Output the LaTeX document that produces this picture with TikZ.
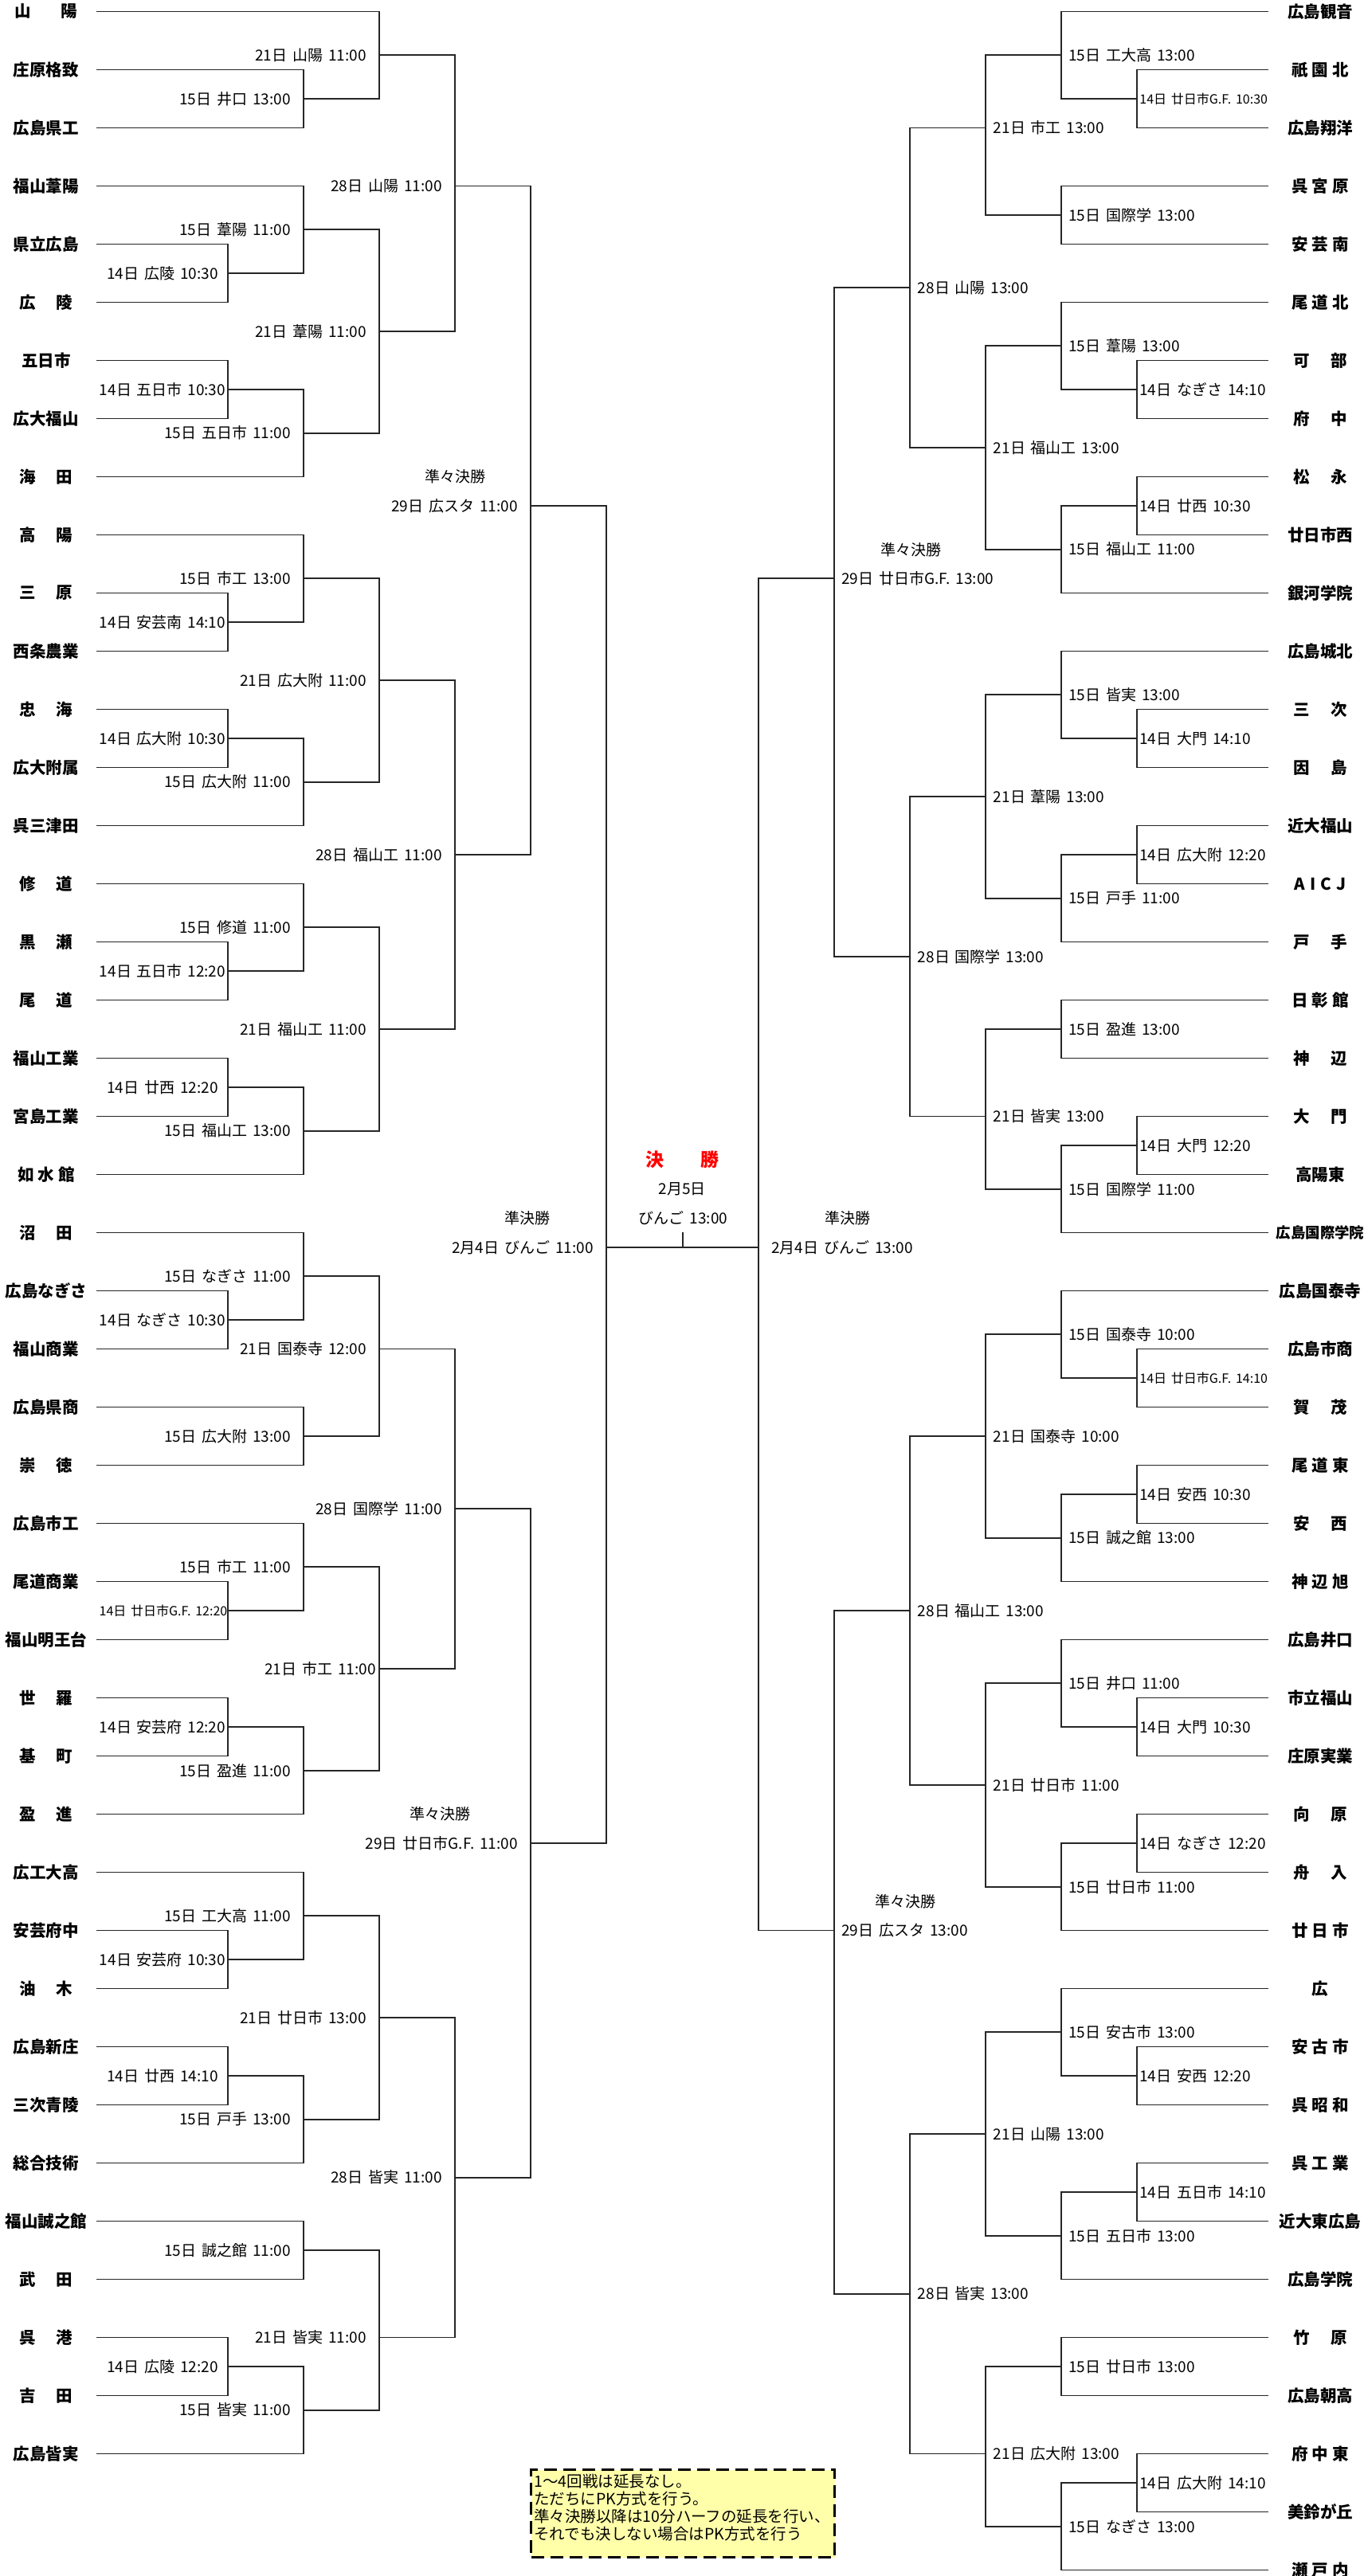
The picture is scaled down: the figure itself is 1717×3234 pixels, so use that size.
\documentclass[tikz,border=0pt]{standalone}
\usepackage{fontspec}
\setmainfont{Noto Sans CJK JP}[WordSpace=1.6]
\definecolor{linec}{gray}{0.15}
\definecolor{notefill}{RGB}{255,255,170}
\newcommand{\Y}[1]{14.5+36.5*(#1)}
\newcommand{\tw}[2]{#1\hspace{13pt}#2}
\newcommand{\ts}[3]{#1\hspace{2.5pt}#2\hspace{2.5pt}#3}
\newcommand{\TL}[2]{\node[team] (nl#1) at (58,{\Y{2*#1}}) {#2};\coordinate (tl#1) at (122,{\Y{2*#1}});}
\newcommand{\TR}[2]{\node[team] (nr#1) at (1657,{\Y{2*#1}}) {#2};\coordinate (tr#1) at (1591,{\Y{2*#1}});}
\newcommand{\MT}[8]{\coordinate (#1) at (#2,{\Y{#3}});\draw[br] (#4) -| (#1) (#5) -| (#1);\node[#6] (#1-l) at (#7,{\Y{#3}}) {#8};}
\tikzset{
  br/.style={draw=linec, line width=0.8pt, line cap=rect},
  team/.style={font=\fontsize{10.25}{12}\selectfont\bfseries, inner sep=0pt},
  lbl/.style={font=\fontsize{9.5}{11}\selectfont, inner sep=0pt},
  lblE/.style={lbl, anchor=east},
  lblW/.style={lbl, anchor=west},
  lblC/.style={lbl, anchor=center},
  slbl/.style={font=\fontsize{8}{10}\selectfont, inner sep=0pt},
  slblC/.style={slbl, anchor=center},
  slblW/.style={slbl, anchor=west},
  finalt/.style={font=\fontsize{11.5}{13}\selectfont\bfseries, text=red, inner sep=0pt},
  notebox/.style={draw=black, line width=1.5pt, dash pattern=on 8pt off 4pt, fill=notefill, minimum width=190.5pt, minimum height=55pt, inner sep=0pt},
  notetext/.style={font=\fontsize{9.75}{11}\selectfont, align=left, inner sep=0pt}
}
\begin{document}
\begin{tikzpicture}[x=0.5pt,y=-0.5pt]
\fill[white] (0,0) rectangle (1717,3234);
\useasboundingbox (0,0) rectangle (1717,3234);
% ---------------- left teams
\TL{0}{山\hspace{18.75pt}陽}
\TL{1}{庄原格致}
\TL{2}{広島県工}
\TL{3}{福山葦陽}
\TL{4}{県立広島}
\TL{5}{\tw{広}{陵}}
\TL{6}{五日市}
\TL{7}{広大福山}
\TL{8}{\tw{海}{田}}
\TL{9}{\tw{高}{陽}}
\TL{10}{\tw{三}{原}}
\TL{11}{西条農業}
\TL{12}{\tw{忠}{海}}
\TL{13}{広大附属}
\TL{14}{呉三津田}
\TL{15}{\tw{修}{道}}
\TL{16}{\tw{黒}{瀬}}
\TL{17}{\tw{尾}{道}}
\TL{18}{福山工業}
\TL{19}{宮島工業}
\TL{20}{\ts{如}{水}{館}}
\TL{21}{\tw{沼}{田}}
\TL{22}{広島なぎさ}
\TL{23}{福山商業}
\TL{24}{広島県商}
\TL{25}{\tw{崇}{徳}}
\TL{26}{広島市工}
\TL{27}{尾道商業}
\TL{28}{福山明王台}
\TL{29}{\tw{世}{羅}}
\TL{30}{\tw{基}{町}}
\TL{31}{\tw{盈}{進}}
\TL{32}{広工大高}
\TL{33}{安芸府中}
\TL{34}{\tw{油}{木}}
\TL{35}{広島新庄}
\TL{36}{三次青陵}
\TL{37}{総合技術}
\TL{38}{福山誠之館}
\TL{39}{\tw{武}{田}}
\TL{40}{\tw{呉}{港}}
\TL{41}{\tw{吉}{田}}
\TL{42}{広島皆実}
% ---------------- right teams
\TR{0}{広島観音}
\TR{1}{\ts{祇}{園}{北}}
\TR{2}{広島翔洋}
\TR{3}{\ts{呉}{宮}{原}}
\TR{4}{\ts{安}{芸}{南}}
\TR{5}{\ts{尾}{道}{北}}
\TR{6}{\tw{可}{部}}
\TR{7}{\tw{府}{中}}
\TR{8}{\tw{松}{永}}
\TR{9}{廿日市西}
\TR{10}{銀河学院}
\TR{11}{広島城北}
\TR{12}{\tw{三}{次}}
\TR{13}{\tw{因}{島}}
\TR{14}{近大福山}
\TR{15}{A\hspace{3pt}I\hspace{3pt}C\hspace{3pt}J}
\TR{16}{\tw{戸}{手}}
\TR{17}{\ts{日}{彰}{館}}
\TR{18}{\tw{神}{辺}}
\TR{19}{\tw{大}{門}}
\TR{20}{高陽東}
\TR{21}{{\fontsize{9.2}{11}\selectfont 広島国際学院}}
\TR{22}{広島国泰寺}
\TR{23}{広島市商}
\TR{24}{\tw{賀}{茂}}
\TR{25}{\ts{尾}{道}{東}}
\TR{26}{\tw{安}{西}}
\TR{27}{\ts{神}{辺}{旭}}
\TR{28}{広島井口}
\TR{29}{市立福山}
\TR{30}{庄原実業}
\TR{31}{\tw{向}{原}}
\TR{32}{\tw{舟}{入}}
\TR{33}{\ts{廿}{日}{市}}
\TR{34}{広}
\TR{35}{\ts{安}{古}{市}}
\TR{36}{\ts{呉}{昭}{和}}
\TR{37}{\ts{呉}{工}{業}}
\TR{38}{近大東広島}
\TR{39}{広島学院}
\TR{40}{\tw{竹}{原}}
\TR{41}{広島朝高}
\TR{42}{\ts{府}{中}{東}}
\TR{43}{美鈴が丘}
\TR{44}{\ts{瀬}{戸}{内}}
% ---------------- left 14
\MT{la1}{286}{9}{tl4}{tl5}{lblC}{204}{14日 広陵 10:30}
\MT{la2}{286}{13}{tl6}{tl7}{lblC}{204}{14日 五日市 10:30}
\MT{la3}{286}{21}{tl10}{tl11}{lblC}{204}{14日 安芸南 14:10}
\MT{la4}{286}{25}{tl12}{tl13}{lblC}{204}{14日 広大附 10:30}
\MT{la5}{286}{33}{tl16}{tl17}{lblC}{204}{14日 五日市 12:20}
\MT{la6}{286}{37}{tl18}{tl19}{lblC}{204}{14日 廿西 12:20}
\MT{la7}{286}{45}{tl22}{tl23}{lblC}{204}{14日 なぎさ 10:30}
\MT{la8}{286}{55}{tl27}{tl28}{slblC}{205}{14日 廿日市G.F. 12:20}
\MT{la9}{286}{59}{tl29}{tl30}{lblC}{204}{14日 安芸府 12:20}
\MT{la10}{286}{67}{tl33}{tl34}{lblC}{204}{14日 安芸府 10:30}
\MT{la11}{286}{71}{tl35}{tl36}{lblC}{204}{14日 廿西 14:10}
\MT{la12}{286}{81}{tl40}{tl41}{lblC}{204}{14日 広陵 12:20}
% left 15
\MT{lb1}{381}{3}{tl1}{tl2}{lblE}{365}{15日 井口 13:00}
\MT{lb2}{381}{7.5}{tl3}{la1}{lblE}{365}{15日 葦陽 11:00}
\MT{lb3}{381}{14.5}{la2}{tl8}{lblE}{365}{15日 五日市 11:00}
\MT{lb4}{381}{19.5}{tl9}{la3}{lblE}{365}{15日 市工 13:00}
\MT{lb5}{381}{26.5}{la4}{tl14}{lblE}{365}{15日 広大附 11:00}
\MT{lb6}{381}{31.5}{tl15}{la5}{lblE}{365}{15日 修道 11:00}
\MT{lb7}{381}{38.5}{la6}{tl20}{lblE}{365}{15日 福山工 13:00}
\MT{lb8}{381}{43.5}{tl21}{la7}{lblE}{365}{15日 なぎさ 11:00}
\MT{lb9}{381}{49}{tl24}{tl25}{lblE}{365}{15日 広大附 13:00}
\MT{lb10}{381}{53.5}{tl26}{la8}{lblE}{365}{15日 市工 11:00}
\MT{lb11}{381}{60.5}{la9}{tl31}{lblE}{365}{15日 盈進 11:00}
\MT{lb12}{381}{65.5}{tl32}{la10}{lblE}{365}{15日 工大高 11:00}
\MT{lb13}{381}{72.5}{la11}{tl37}{lblE}{365}{15日 戸手 13:00}
\MT{lb14}{381}{77}{tl38}{tl39}{lblE}{365}{15日 誠之館 11:00}
\MT{lb15}{381}{82.5}{la12}{tl42}{lblE}{365}{15日 皆実 11:00}
% left 21
\MT{lc1}{476}{1.5}{tl0}{lb1}{lblE}{460}{21日 山陽 11:00}
\MT{lc2}{476}{11}{lb2}{lb3}{lblE}{460}{21日 葦陽 11:00}
\MT{lc3}{476}{23}{lb4}{lb5}{lblE}{460}{21日 広大附 11:00}
\MT{lc4}{476}{35}{lb6}{lb7}{lblE}{460}{21日 福山工 11:00}
\MT{lc5}{476}{46}{lb8}{lb9}{lblE}{460}{21日 国泰寺 12:00}
\MT{lc6}{476}{57}{lb10}{lb11}{lblE}{472}{21日 市工 11:00}
\MT{lc7}{476}{69}{lb12}{lb13}{lblE}{460}{21日 廿日市 13:00}
\MT{lc8}{476}{80}{lb14}{lb15}{lblE}{460}{21日 皆実 11:00}
% left 28
\MT{ld1}{571}{6}{lc1}{lc2}{lblE}{555}{28日 山陽 11:00}
\MT{ld2}{571}{29}{lc3}{lc4}{lblE}{555}{28日 福山工 11:00}
\MT{ld3}{571}{51.5}{lc5}{lc6}{lblE}{555}{28日 国際学 11:00}
\MT{ld4}{571}{74.5}{lc7}{lc8}{lblE}{555}{28日 皆実 11:00}
% left 29
\MT{le1}{666}{17}{ld1}{ld2}{lblE}{650}{29日 広スタ 11:00}
\MT{le2}{666}{63}{ld3}{ld4}{lblE}{650}{29日 廿日市G.F. 11:00}
% left SF
\MT{lf}{761}{42.5}{le1}{le2}{lblE}{745}{2月4日 びんご 11:00}
% ---------------- right 14
\MT{ra1}{1427}{3}{tr1}{tr2}{slblW}{1430}{14日 廿日市G.F. 10:30}
\MT{ra2}{1427}{13}{tr6}{tr7}{lblW}{1430}{14日 なぎさ 14:10}
\MT{ra3}{1427}{17}{tr8}{tr9}{lblW}{1430}{14日 廿西 10:30}
\MT{ra4}{1427}{25}{tr12}{tr13}{lblW}{1430}{14日 大門 14:10}
\MT{ra5}{1427}{29}{tr14}{tr15}{lblW}{1430}{14日 広大附 12:20}
\MT{ra6}{1427}{39}{tr19}{tr20}{lblW}{1430}{14日 大門 12:20}
\MT{ra7}{1427}{47}{tr23}{tr24}{slblW}{1430}{14日 廿日市G.F. 14:10}
\MT{ra8}{1427}{51}{tr25}{tr26}{lblW}{1430}{14日 安西 10:30}
\MT{ra9}{1427}{59}{tr29}{tr30}{lblW}{1430}{14日 大門 10:30}
\MT{ra10}{1427}{63}{tr31}{tr32}{lblW}{1430}{14日 なぎさ 12:20}
\MT{ra11}{1427}{71}{tr35}{tr36}{lblW}{1430}{14日 安西 12:20}
\MT{ra12}{1427}{75}{tr37}{tr38}{lblW}{1430}{14日 五日市 14:10}
\MT{ra13}{1427}{85}{tr42}{tr43}{lblW}{1430}{14日 広大附 14:10}
% right 15
\MT{rb1}{1332}{1.5}{tr0}{ra1}{lblW}{1341}{15日 工大高 13:00}
\MT{rb2}{1332}{7}{tr3}{tr4}{lblW}{1341}{15日 国際学 13:00}
\MT{rb3}{1332}{11.5}{tr5}{ra2}{lblW}{1341}{15日 葦陽 13:00}
\MT{rb4}{1332}{18.5}{ra3}{tr10}{lblW}{1341}{15日 福山工 11:00}
\MT{rb5}{1332}{23.5}{tr11}{ra4}{lblW}{1341}{15日 皆実 13:00}
\MT{rb6}{1332}{30.5}{ra5}{tr16}{lblW}{1341}{15日 戸手 11:00}
\MT{rb7}{1332}{35}{tr17}{tr18}{lblW}{1341}{15日 盈進 13:00}
\MT{rb8}{1332}{40.5}{ra6}{tr21}{lblW}{1341}{15日 国際学 11:00}
\MT{rb9}{1332}{45.5}{tr22}{ra7}{lblW}{1341}{15日 国泰寺 10:00}
\MT{rb10}{1332}{52.5}{ra8}{tr27}{lblW}{1341}{15日 誠之館 13:00}
\MT{rb11}{1332}{57.5}{tr28}{ra9}{lblW}{1341}{15日 井口 11:00}
\MT{rb12}{1332}{64.5}{ra10}{tr33}{lblW}{1341}{15日 廿日市 11:00}
\MT{rb13}{1332}{69.5}{tr34}{ra11}{lblW}{1341}{15日 安古市 13:00}
\MT{rb14}{1332}{76.5}{ra12}{tr39}{lblW}{1341}{15日 五日市 13:00}
\MT{rb15}{1332}{81}{tr40}{tr41}{lblW}{1341}{15日 廿日市 13:00}
\MT{rb16}{1332}{86.5}{ra13}{tr44}{lblW}{1341}{15日 なぎさ 13:00}
% right 21
\MT{rc1}{1237}{4}{rb1}{rb2}{lblW}{1246.5}{21日 市工 13:00}
\MT{rc2}{1237}{15}{rb3}{rb4}{lblW}{1246.5}{21日 福山工 13:00}
\MT{rc3}{1237}{27}{rb5}{rb6}{lblW}{1246.5}{21日 葦陽 13:00}
\MT{rc4}{1237}{38}{rb7}{rb8}{lblW}{1246.5}{21日 皆実 13:00}
\MT{rc5}{1237}{49}{rb9}{rb10}{lblW}{1246.5}{21日 国泰寺 10:00}
\MT{rc6}{1237}{61}{rb11}{rb12}{lblW}{1246.5}{21日 廿日市 11:00}
\MT{rc7}{1237}{73}{rb13}{rb14}{lblW}{1246.5}{21日 山陽 13:00}
\MT{rc8}{1237}{84}{rb15}{rb16}{lblW}{1246.5}{21日 広大附 13:00}
% right 28
\MT{rd1}{1142}{9.5}{rc1}{rc2}{lblW}{1151.5}{28日 山陽 13:00}
\MT{rd2}{1142}{32.5}{rc3}{rc4}{lblW}{1151.5}{28日 国際学 13:00}
\MT{rd3}{1142}{55}{rc5}{rc6}{lblW}{1151.5}{28日 福山工 13:00}
\MT{rd4}{1142}{78.5}{rc7}{rc8}{lblW}{1151.5}{28日 皆実 13:00}
% right 29
\MT{re1}{1047}{19.5}{rd1}{rd2}{lblW}{1056}{29日 廿日市G.F. 13:00}
\MT{re2}{1047}{66}{rd3}{rd4}{lblW}{1056}{29日 広スタ 13:00}
% right SF
\MT{rf}{952}{42.5}{re1}{re2}{lblW}{968}{2月4日 びんご 13:00}
% ---------------- final
\draw[br] (lf) -- (rf);
\coordinate (fmid) at (857,{\Y{42.5}});
\coordinate (ftick) at (857,1548);
\draw[br] (ftick) -- (fmid);
\node[finalt] (fin) at (856.5,{\Y{39.5}}) {決\hspace{23pt}勝};
\node[lblC] (fdate) at (856,{\Y{40.5}}) {2月5日};
\node[lblC] (fvenue) at (857.5,{\Y{41.5}}) {びんご 13:00};
% round titles
\node[lblC] (lqf1) at (571,{\Y{16}}) {準々決勝};
\node[lblC] (lqf2) at (552,{\Y{62}}) {準々決勝};
\node[lblC] (rqf1) at (1143,{\Y{18.5}}) {準々決勝};
\node[lblC] (rqf2) at (1136,{\Y{65}}) {準々決勝};
\node[lblC] (lsf) at (662,{\Y{41.5}}) {準決勝};
\node[lblC] (rsf) at (1064,{\Y{41.5}}) {準決勝};
% note
\node[notebox, anchor=north west] (note) at (665,3099) {};
\node[notetext, anchor=north west] (notet) at (670,3106) {1～4回戦は延長なし。\\ただちにPK方式を行う。\\準々決勝以降は10分ハーフの延長を行い、\\それでも決しない場合はPK方式を行う};
\end{tikzpicture}
\end{document}
